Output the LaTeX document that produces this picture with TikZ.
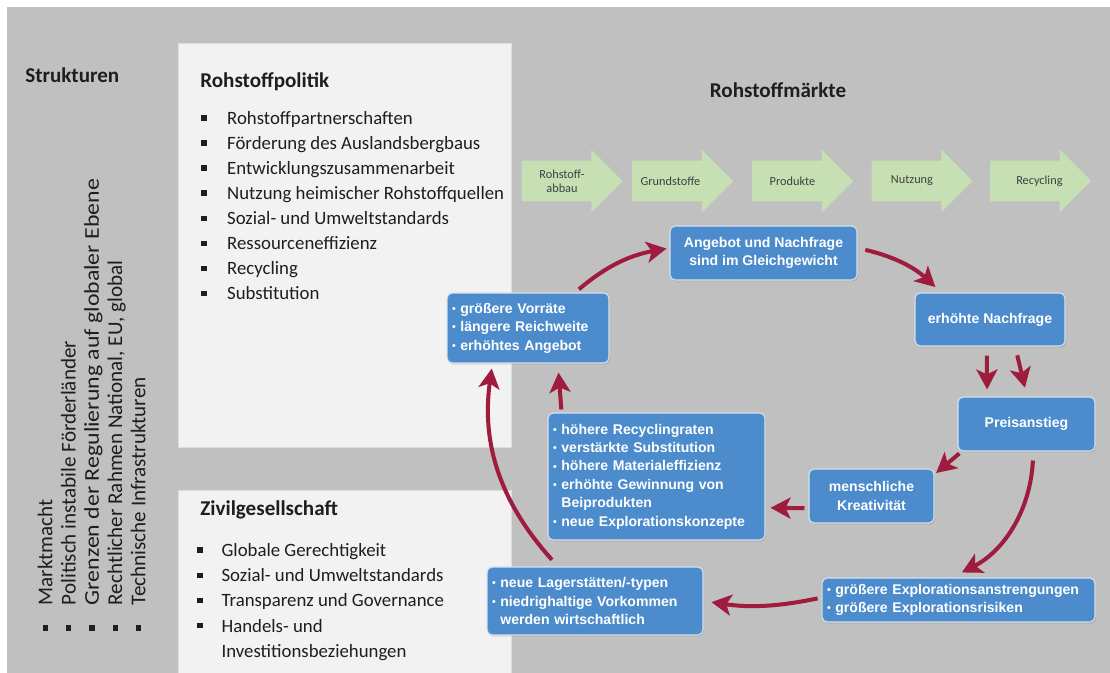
\documentclass[tikz,border=0pt]{standalone}
\usepackage{fontspec}
\setmainfont{Carlito}
\newfontfamily\boxfont{Liberation Sans}
\usetikzlibrary{shapes.arrows,arrows.meta,shadows}
\definecolor{bggray}{RGB}{192,192,192}
\definecolor{panel}{RGB}{242,242,242}
\definecolor{panelline}{RGB}{222,222,222}
\definecolor{boxblue}{RGB}{76,140,204}
\definecolor{boxline}{RGB}{214,226,238}
\definecolor{flowred}{RGB}{160,28,62}
\definecolor{stepgreen}{RGB}{198,224,180}
\definecolor{ink}{RGB}{30,30,30}
\newcommand{\sqb}[1]{\makebox[#1][l]{\rule[0.2em]{3pt}{3pt}}}
\newcommand{\bul}{{\fontsize{6}{6}\selectfont\raisebox{0.15ex}{•}}\ }

\begin{document}
\begin{tikzpicture}[x=0.02cm,y=0.02cm]
	\tikzstyle{mbox} = [draw=boxline, line width=0.6pt, fill=boxblue, rounded corners=3pt, text=white, font=\boxfont\bfseries\fontsize{8}{10.5}\selectfont, drop shadow={shadow xshift=0.6pt, shadow yshift=-0.8pt, opacity=0.35}];
	\tikzstyle{cbox} = [mbox, align=center];
	\tikzstyle{lbox} = [mbox, align=left, inner xsep=0.1cm];
	\tikzstyle{stepar} = [single arrow, fill=stepgreen, minimum height=2.02cm, minimum width=1.24cm, single arrow head extend=0.22cm, inner xsep=0pt, inner ysep=0.4cm];
	\tikzstyle{steptext} = [font=\fontsize{7}{8}\selectfont, text=ink!85, align=center];
	\tikzstyle{flow} = [flowred, line width=2.3pt, -{Stealth[length=0.4cm,width=0.42cm,inset=0.1cm]}];
	\tikzstyle{title} = [inner sep=0pt, font=\bfseries\fontsize{12}{14}\selectfont, text=ink];
	\tikzstyle{plist} = [inner sep=0pt, align=left, text=ink];

	\useasboundingbox (0,0) rectangle (1110,-673);
	% background and panels
	\fill[bggray] (7,-7) rectangle (1110,-673);
	\filldraw[fill=panel, draw=panelline] (178,-43) rectangle (511,-447);
	\filldraw[fill=panel, draw=panelline] (178,-490) rectangle (511,-673);

	% Strukturen
	\node[title, anchor=base west] (struk) at (25,-82) {Strukturen};
	\node[plist, rotate=90, anchor=north west, font=\fontsize{12}{13.2}\selectfont] (struklist) at (37.5,-631)
		{\sqb{14.5pt}Marktmacht\\ \sqb{14.5pt}Politisch instabile Förderländer\\ \sqb{14.5pt}\scalebox{1.13}[1]{Grenzen der Regulierung auf globaler Ebene}\\ \sqb{14.5pt}Rechtlicher Rahmen  National, EU, global\\ \sqb{14.5pt}Technische Infrastrukturen};

	% Rohstoffpolitik
	\node[title, anchor=base west] (polit) at (200,-87) {Rohstoffpolitik};
	\node[plist, anchor=north west, font=\fontsize{10.7}{14.25}\selectfont] (politlist) at (201,-111)
		{\sqb{14.7pt}Rohstoffpartnerschaften\\ \sqb{14.7pt}Förderung des Auslandsbergbaus\\ \sqb{14.7pt}Entwicklungszusammenarbeit\\ \sqb{14.7pt}Nutzung heimischer Rohstoffquellen\\ \sqb{14.7pt}Sozial- und Umweltstandards\\ \sqb{14.7pt}Ressourceneffizienz\\ \sqb{14.7pt}Recycling\\ \sqb{14.7pt}Substitution};

	% Zivilgesellschaft
	\node[title, anchor=base west] (zivil) at (200,-515) {Zivilgesellschaft};
	\node[plist, anchor=north west, font=\fontsize{10.7}{14.35}\selectfont] (zivillist) at (197,-543)
		{\sqb{13.8pt}Globale Gerechtigkeit\\ \sqb{13.8pt}Sozial- und Umweltstandards\\ \sqb{13.8pt}Transparenz und Governance\\ \sqb{13.8pt}Handels- und\\ \hspace*{13.8pt}Investitionsbeziehungen};

	% Rohstoffmaerkte
	\node[title, anchor=base] (markt) at (778,-97) {Rohstoffmärkte};
	\node[stepar, label={[steptext]center:Rohstoff-\\abbau}] (abbau) at (562,-181) {};
	\node[stepar, right of = abbau, node distance=2.21cm, label={[steptext, xshift=-0.04cm]center:Grundstoffe}] (grund) {};
	\node[stepar, right of = grund, node distance=2.4cm, label={[steptext]center:Produkte}] (prod) {};
	\node[stepar, right of = prod, node distance=2.39cm, label={[steptext]center:Nutzung}] (nutz) {};
	\node[stepar, right of = nutz, node distance=2.37cm, label={[steptext, xshift=0.18cm]center:Recycling}] (recyc) {};

	% Kreislauf
	\node[cbox, minimum width=3.74cm, minimum height=1.08cm] (gleich) at (763.5,-253) {Angebot und Nachfrage\\sind im Gleichgewicht};
	\node[lbox, text width=3.04cm, minimum height=1.4cm] (vorraete) at (528,-328) {\bul größere Vorräte\\\bul längere Reichweite\\\bul erhöhtes Angebot};
	\node[cbox, minimum width=3cm, minimum height=1.06cm] (nachfrage) at (990,-319.5) {erhöhte Nachfrage};
	\node[cbox, minimum width=2.74cm, minimum height=1.08cm] (preis) at (1026.5,-424) {Preisanstieg};
	\node[cbox, minimum width=2.5cm, minimum height=1.08cm] (kreativ) at (871.5,-496) {menschliche\\Kreativität};
	\node[lbox, text width=4.14cm, minimum height=2.54cm] (massn) at (656.5,-476.5) {\bul höhere Recyclingraten\\\bul verstärkte Substitution\\\bul höhere Materialeffizienz\\\bul erhöhte Gewinnung von\\\phantom{\bul}Beiprodukten\\\bul neue Explorationskonzepte};
	\node[lbox, text width=4.12cm, minimum height=1.36cm] (lager) at (595,-601) {\bul neue Lagerstätten/-typen\\\bul niedrighaltige Vorkommen\\\phantom{\bul}werden wirtschaftlich};
	\node[lbox, text width=5.26cm, minimum height=0.88cm] (explor) at (958.5,-600) {\bul größere Explorationsanstrengungen\\\bul größere Explorationsrisiken};

	\draw[flow, shorten <=0.1cm, shorten >=0.06cm] (vorraete.37) to[bend left=15] (gleich.177);
	\draw[flow, shorten <=0.16cm, shorten >=0.16cm] (gleich.3) to[bend left=15] (nachfrage.151);
	\draw[flow, shorten <=0.18cm, shorten >=0.14cm] (nachfrage.263) -- (preis.145);
	\draw[flow, shorten <=0.18cm, shorten >=0.18cm] (nachfrage.313) -- (preis.89);
	\draw[flow, shorten <=0.06cm, shorten >=0.04cm] (preis.203) -- (kreativ.19);
	\draw[flow, shorten <=0.08cm, shorten >=0.1cm] (kreativ.191) -- (massn.344);
	\draw[flow, shorten <=0.18cm, shorten >=0.22cm] (preis.284) to[bend left=30] (explor.106);
	\draw[flow, shorten <=0.08cm, shorten >=0.16cm] (explor.179) to[bend left=10] (lager.east);
	\draw[flow, shorten <=0.18cm, shorten >=0.1cm] (lager.137) to[out=132,in=-98] (vorraete.225);
	\draw[flow, shorten <=0.06cm, shorten >=0.18cm] (massn.146) -- (vorraete.310);
\end{tikzpicture}
\end{document}
